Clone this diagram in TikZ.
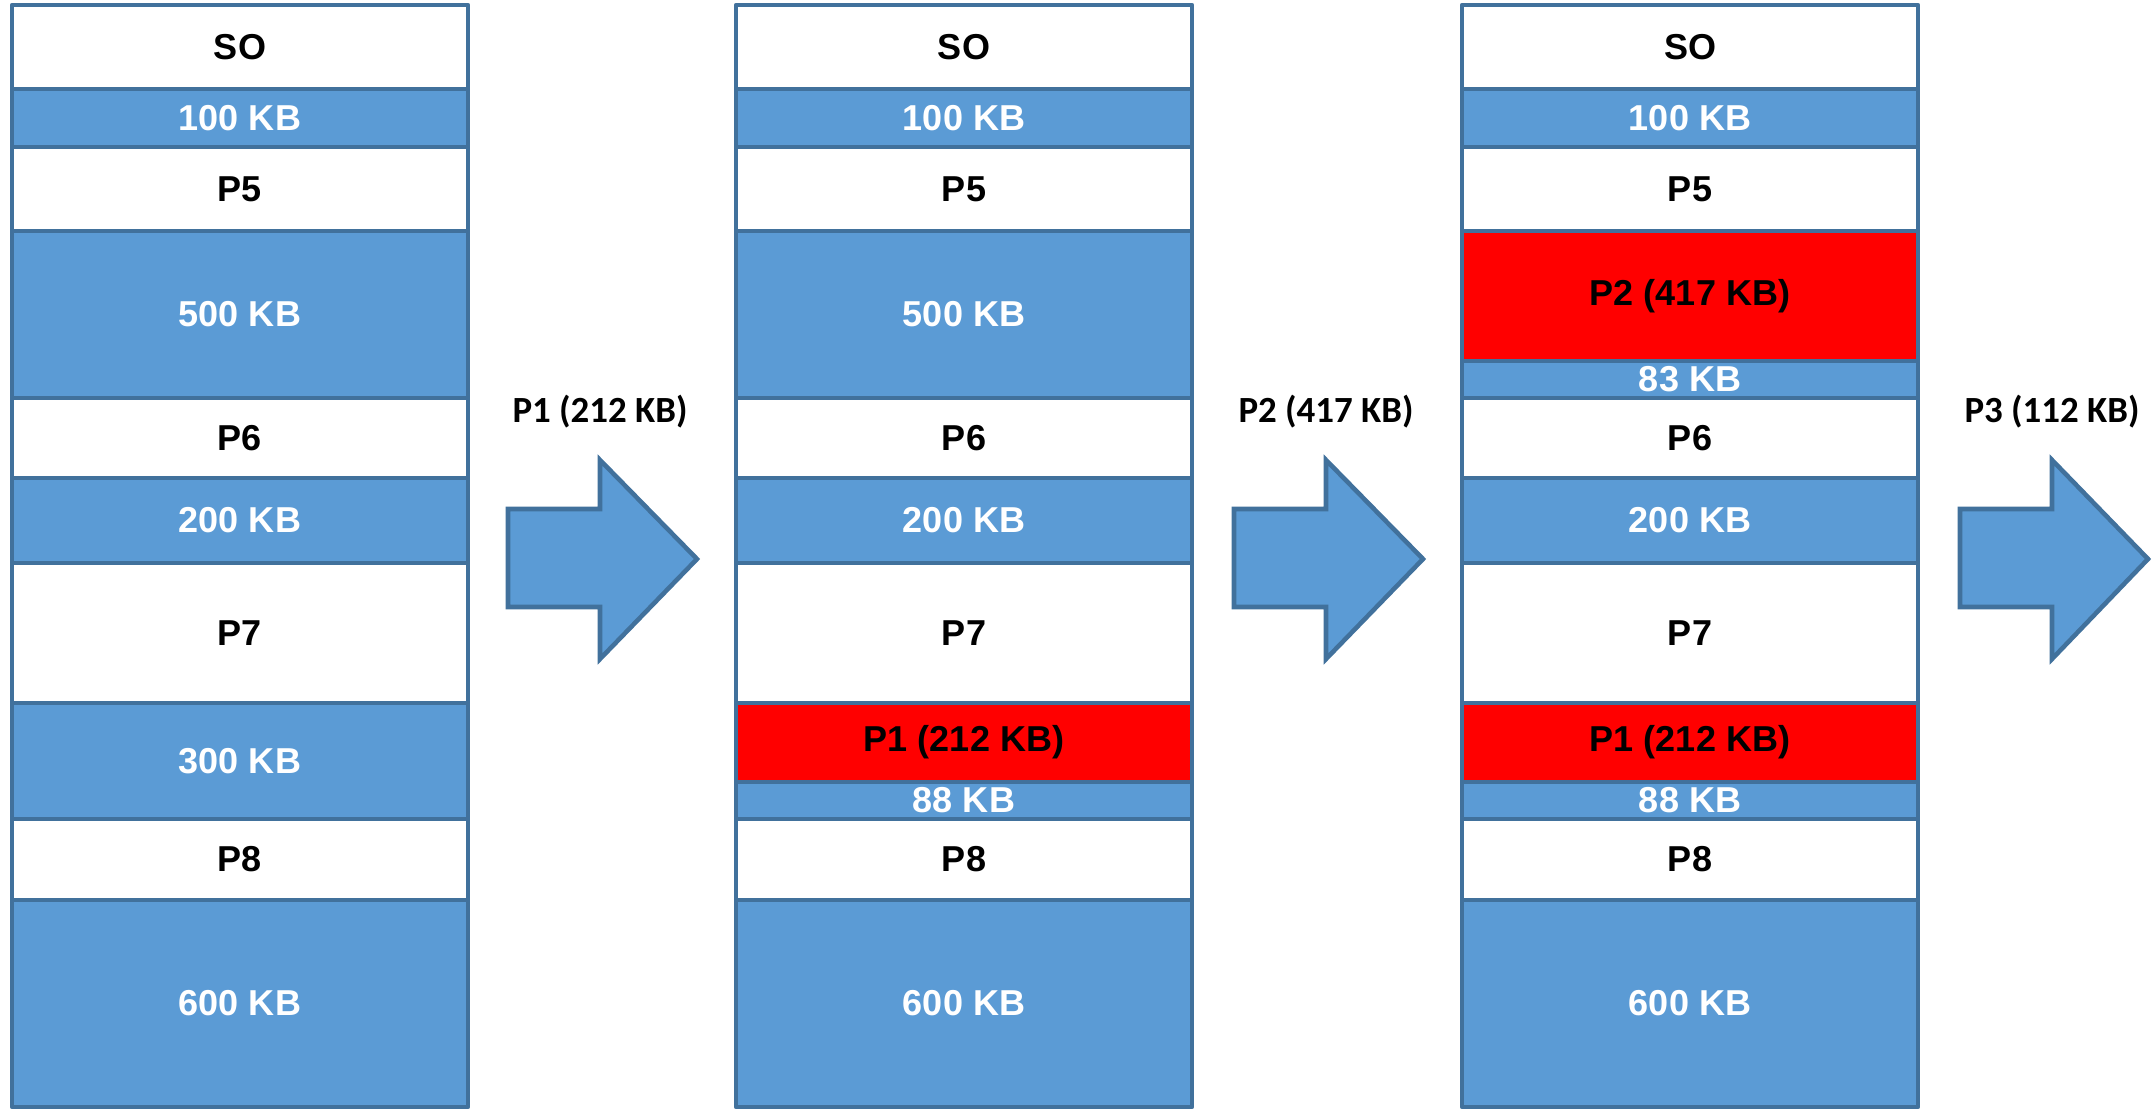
\documentclass[tikz,border=0pt]{standalone}
\usepackage{fontspec}
\setmainfont{Liberation Sans}
\newfontfamily\arrowfont{Carlito}
\definecolor{memblue}{HTML}{5B9BD5}
\definecolor{memline}{HTML}{41719C}
\definecolor{memred}{HTML}{FF0000}
\begin{document}
\begin{tikzpicture}[line join=round, line cap=round, x=0.02cm, y=-0.02cm,
    font=\fontsize{20.5}{24}\selectfont\bfseries,
    mem/.style={draw=memline, line width=2.6pt, minimum width=9.12cm, inner sep=0pt},
    free/.style={mem, fill=memblue, text=white},
    proc/.style={mem, fill=white},
    newp/.style={mem, fill=memred},
    h/.style={minimum height=#1*0.02cm},
    bigarrow/.style={draw=memline, fill=memblue, line width=2.6pt, line join=miter},
    lbl/.style={font=\arrowfont\fontsize{21}{24}\selectfont\bfseries}]
    \useasboundingbox (0,0) rectangle (2152,1109);
    \def \xa{240}
    \def \xb{964}
    \def \xc{1690}
    % memoria inicial
    \node[proc, h=84]  (aSO)  at (\xa,47)    {SO};
    \node[free, h=58]  (a100) at (\xa,118)   {100 KB};
    \node[proc, h=84]  (aP5)  at (\xa,189)   {P5};
    \node[free, h=167] (a500) at (\xa,314.5) {500 KB};
    \node[proc, h=80]  (aP6)  at (\xa,438)   {P6};
    \node[free, h=85]  (a200) at (\xa,520.5) {200 KB};
    \node[proc, h=140] (aP7)  at (\xa,633)   {P7};
    \node[free, h=116] (a300) at (\xa,761)   {300 KB};
    \node[proc, h=81]  (aP8)  at (\xa,859.5) {P8};
    \node[free, h=207] (a600) at (\xa,1003.5) {600 KB};
    % tras P1
    \node[proc, h=84]  (bSO)  at (\xb,47)    {SO};
    \node[free, h=58]  (b100) at (\xb,118)   {100 KB};
    \node[proc, h=84]  (bP5)  at (\xb,189)   {P5};
    \node[free, h=167] (b500) at (\xb,314.5) {500 KB};
    \node[proc, h=80]  (bP6)  at (\xb,438)   {P6};
    \node[free, h=85]  (b200) at (\xb,520.5) {200 KB};
    \node[proc, h=140] (bP7)  at (\xb,633)   {P7};
    \node[newp, h=79]  (bP1)  at (\xb,742.5) {P1 (212 KB)};
    \node[free, h=37]  (b88)  at (\xb,800.5) {88 KB};
    \node[proc, h=81]  (bP8)  at (\xb,859.5) {P8};
    \node[free, h=207] (b600) at (\xb,1003.5) {600 KB};
    % tras P2
    \node[proc, h=84]  (cSO)  at (\xc,47)    {SO};
    \node[free, h=58]  (c100) at (\xc,118)   {100 KB};
    \node[proc, h=84]  (cP5)  at (\xc,189)   {P5};
    \node[newp, h=130] (cP2)  at (\xc,296)   {P2 (417 KB)};
    \node[free, h=37]  (c83)  at (\xc,379.5) {83 KB};
    \node[proc, h=80]  (cP6)  at (\xc,438)   {P6};
    \node[free, h=85]  (c200) at (\xc,520.5) {200 KB};
    \node[proc, h=140] (cP7)  at (\xc,633)   {P7};
    \node[newp, h=79]  (cP1)  at (\xc,742.5) {P1 (212 KB)};
    \node[free, h=37]  (c88)  at (\xc,800.5) {88 KB};
    \node[proc, h=81]  (cP8)  at (\xc,859.5) {P8};
    \node[free, h=207] (c600) at (\xc,1003.5) {600 KB};
    % flechas
    \draw[bigarrow] (508,509)--(600,509)--(600,460)--(697,559)--(600,659)--(600,607)--(508,607)--cycle;
    \draw[bigarrow] (1234,509)--(1326,509)--(1326,460)--(1423,559)--(1326,659)--(1326,607)--(1234,607)--cycle;
    \draw[bigarrow] (1960,509)--(2052,509)--(2052,460)--(2148,559)--(2052,659)--(2052,607)--(1960,607)--cycle;
    \node[lbl] (l1) at (600,412)  {P1 (212 KB)};
    \node[lbl] (l2) at (1326,412) {P2 (417 KB)};
    \node[lbl] (l3) at (2052,412) {P3 (112 KB)};
\end{tikzpicture}
\end{document}
